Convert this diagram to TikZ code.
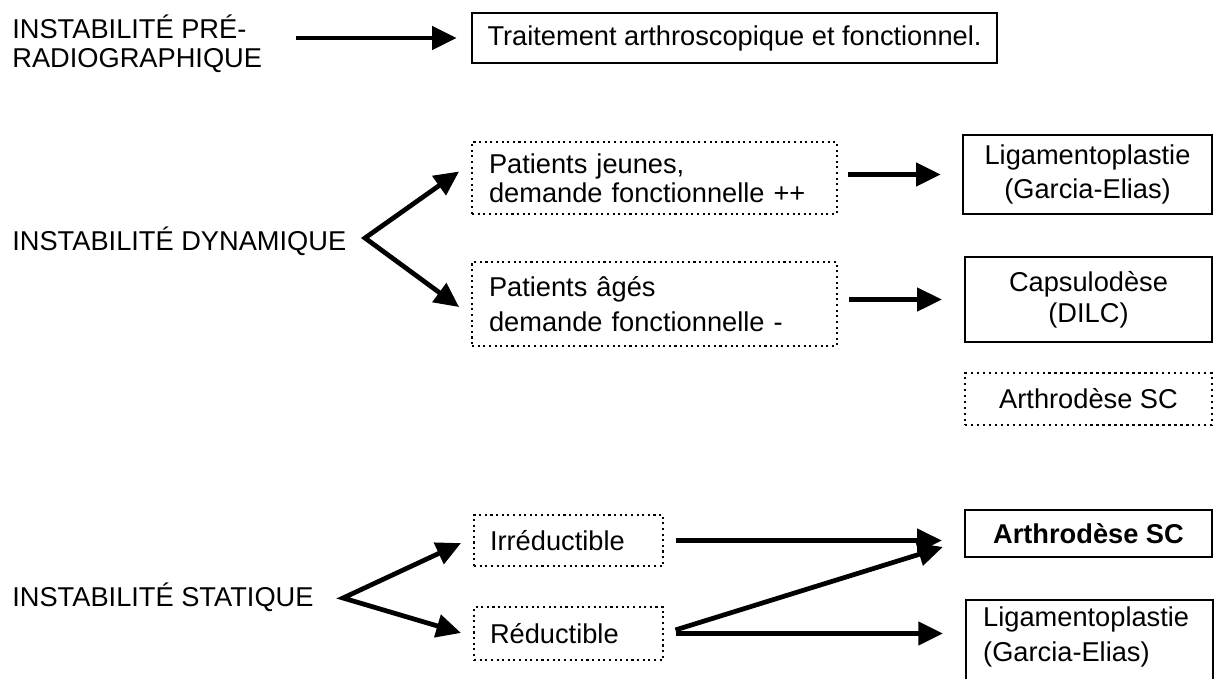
\documentclass[tikz,border=0pt]{standalone}
\usepackage{fontspec}
\setmainfont{Liberation Sans}
\usepackage{tikz}
\usetikzlibrary{arrows.meta}

\begin{document}
\begin{tikzpicture}[x=0.02cm,y=-0.02cm,
	every node/.style={font=\fontsize{15.5}{16.5}\selectfont},
	lbl/.style={anchor=west,align=left,inner sep=0pt},
	box/.style={draw,line width=1.4pt,inner sep=0pt,align=center},
	dbox/.style={draw,line width=1.2pt,dotted,inner xsep=0.34cm,inner ysep=0pt,align=left},
	arr/.style={line width=2.7pt,-{Triangle[length=14pt,width=13pt]}},
	arrs/.style={line width=2.7pt,line join=miter,{Triangle[length=14pt,width=13pt]}-{Triangle[length=14pt,width=13pt]}}]
			
			\useasboundingbox (0,0) rectangle (1214,679);
			\clip (0,0) rectangle (1214,679);
			
			\node[lbl] (pre) at (12,44) {INSTABILITÉ PRÉ-\\RADIOGRAPHIQUE};
			\node[box,minimum width=10.5cm,minimum height=1cm] (trt) at (734.5,38) {Traitement arthroscopique et fonctionnel.};
			
			\node[lbl] (dyn) at (12,241) {INSTABILITÉ DYNAMIQUE};
			\coordinate (dynv) at (365,238);
			\node[dbox,text width=6.62cm,minimum height=1.44cm] (jeunes) at (654.5,178) {Patients jeunes,\\demande fonctionnelle ++};
			\node[dbox,text width=6.62cm,minimum height=1.68cm] (ages) at (654.5,304) {Patients âgés\\[3pt]demande fonctionnelle -};
			\node[box,minimum width=4.98cm,minimum height=1.58cm] (lig1) at (1087.5,174.5) {Ligamentoplastie\\[3pt](Garcia-Elias)};
			\node[box,minimum width=4.94cm,minimum height=1.7cm] (caps) at (1088.5,299.5) {Capsulodèse\\[1pt](DILC)};
			\node[box,dotted,line width=1.2pt,minimum width=4.94cm,minimum height=1.04cm] (arthd) at (1088.5,399) {Arthrodèse SC};
			
			\node[lbl] (sta) at (12,597) {INSTABILITÉ STATIQUE};
			\coordinate (stav) at (343,598);
			\node[dbox,inner xsep=0.32cm,text width=3.14cm,minimum height=1.02cm] (irr) at (568.5,540.5) {Irréductible};
			\node[dbox,inner xsep=0.32cm,text width=3.14cm,minimum height=1.06cm] (red) at (568.5,633.5) {Réductible};
			\node[box,minimum width=4.94cm,minimum height=0.94cm] (arths) at (1088.5,533.5) {\bfseries Arthrodèse SC};
			\node[box,align=left,anchor=north west,inner xsep=0.34cm,inner ysep=4pt,text width=4.26cm,text depth=3cm] (lig2) at (965,599) {Ligamentoplastie\\[3pt](Garcia-Elias)};
			
			\draw[arr,shorten <=19pt,shorten >=8pt] (pre.east |- trt.west) -- (trt.west);
			\draw[arrs,shorten <=8.3pt,shorten >=8.4pt] ([yshift=8.5pt]jeunes.west) -- (dynv) -- ([yshift=-6.7pt]ages.west);
			\draw[arr,shorten <=5.7pt,shorten >=12pt] (jeunes.east |- lig1.west) -- (lig1.west);
			\draw[arr,shorten <=6pt,shorten >=12.5pt] (ages.east |- caps.west) -- (caps.west);
			\draw[arrs,shorten <=7.5pt,shorten >=7.1pt] ([yshift=1.7pt]irr.west) -- (stav) -- ([yshift=-1.7pt]red.west);
			\draw[arr,shorten <=6.8pt,shorten >=12.5pt] (irr.east) -- (irr.east -| arths.west);
			\draw[arr,shorten <=6.8pt,shorten >=12.5pt] (red.east) -- (irr.east -| arths.west);
			\draw[arr,shorten <=6.8pt,shorten >=12.5pt] (red.east) -- (red.east -| lig2.west);
			
		\end{tikzpicture}
\end{document}
